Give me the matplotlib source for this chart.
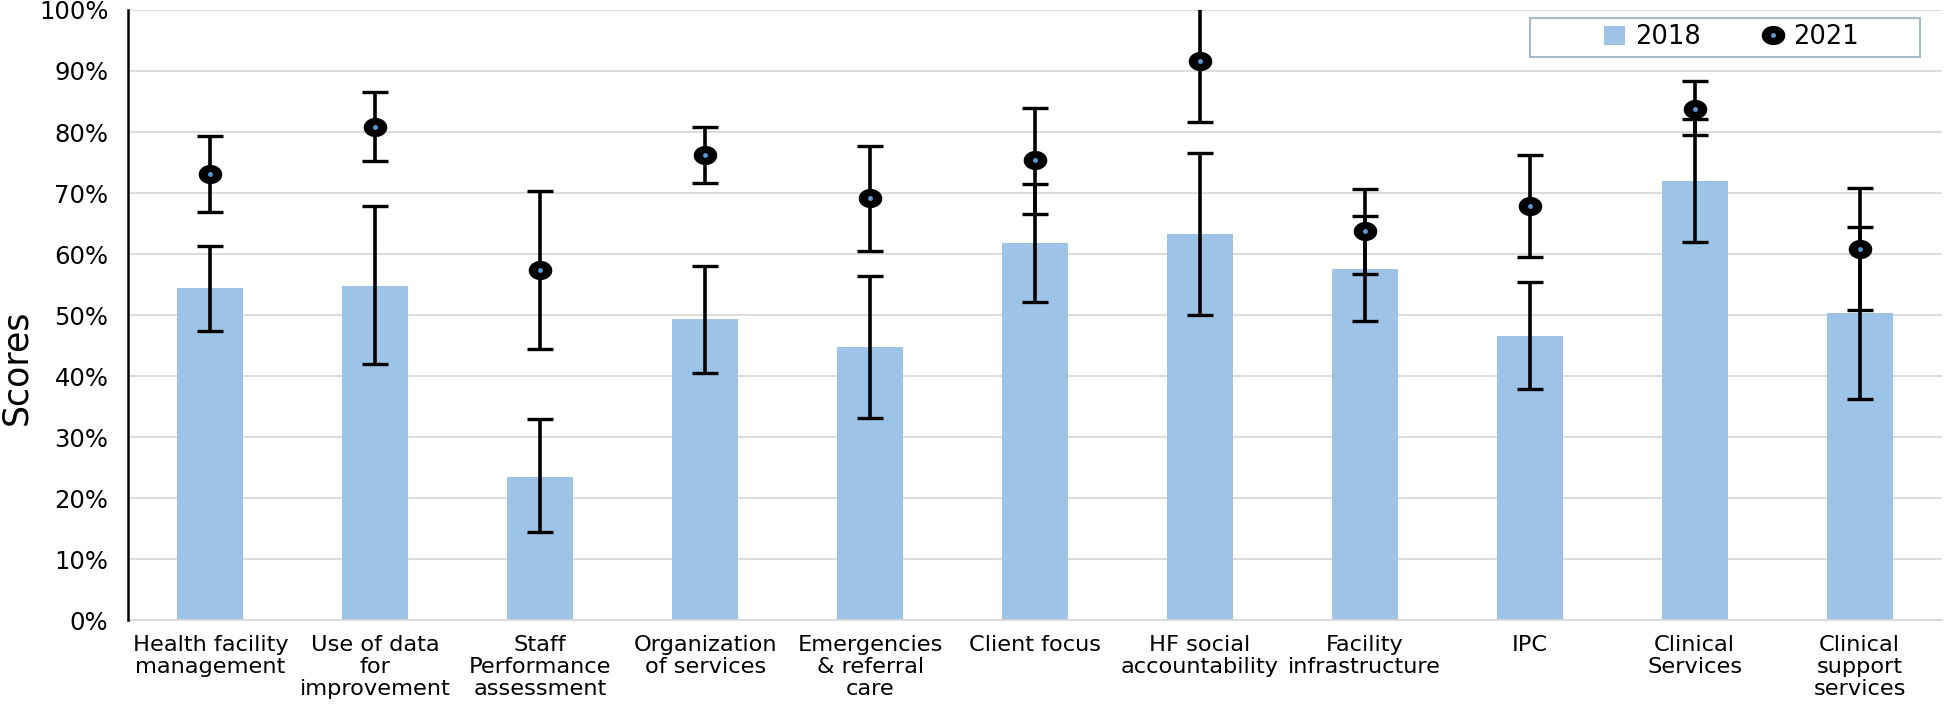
import numpy as np
import matplotlib
matplotlib.use('Agg')
import matplotlib.pyplot as plt
from matplotlib.lines import Line2D
from matplotlib.patches import Patch, Rectangle
from matplotlib.legend_handler import HandlerTuple

categories = ['Health facility\nmanagement', 'Use of data\nfor\nimprovement', 'Staff\nPerformance\nassessment',
              'Organization\nof services', 'Emergencies\n& referral\ncare', 'Client focus',
              'HF social\naccountability', 'Facility\ninfrastructure', 'IPC', 'Clinical\nServices',
              'Clinical\nsupport\nservices']

# 2018 scores (bars) and their error bar ends
score_2018 = [54.4, 54.8, 23.5, 49.3, 44.7, 61.8, 63.2, 57.6, 46.5, 71.9, 50.4]
low_2018 = [47.4, 41.9, 14.5, 40.5, 33.1, 52.2, 50.0, 49.0, 37.9, 61.9, 36.3]
high_2018 = [61.3, 67.9, 32.9, 58.1, 56.4, 71.4, 76.5, 66.3, 55.4, 82.1, 64.4]

# 2021 scores (points) and their error bar ends
score_2021 = [73.1, 80.9, 57.4, 76.2, 69.1, 75.4, 91.7, 63.8, 67.8, 83.8, 60.8]
low_2021 = [66.9, 75.3, 44.5, 71.6, 60.5, 66.6, 81.7, 56.7, 59.5, 79.5, 50.8]
high_2021 = [79.3, 86.6, 70.3, 80.8, 77.7, 83.9, 101.7, 70.7, 76.2, 88.3, 70.9]

BAR_COLOR = '#9DC3E6'
DOT_COLOR = '#5B9BD5'
GRID_COLOR = '#D9D9D9'

x = np.arange(len(categories))
s18 = np.array(score_2018)
s21 = np.array(score_2021)
err18 = [s18 - np.array(low_2018), np.array(high_2018) - s18]
err21 = [s21 - np.array(low_2021), np.array(high_2021) - s21]

fig = plt.figure(figsize=(19.44, 7.09), dpi=100)
ax = fig.add_axes([0.0658, 0.1255, 0.9332, 0.8604])

ax.bar(x, s18, width=0.40, color=BAR_COLOR, zorder=2)
ax.errorbar(x, s18, yerr=err18, fmt='none', ecolor='black', elinewidth=2.6,
            capsize=9.5, capthick=2.4, zorder=3)
ax.errorbar(x, s21, yerr=err21, fmt='none', ecolor='black', elinewidth=2.6,
            capsize=9.5, capthick=2.4, zorder=3)

# slightly wide ellipse marker like the original
t = np.linspace(0, 2 * np.pi, 60)
ell = np.column_stack([1.25 * np.cos(t), np.sin(t)])
ax.plot(x, s21, linestyle='none', marker=ell, markersize=16, color='black', zorder=4)
ax.plot(x, s21, linestyle='none', marker='o', markersize=3.5, color=DOT_COLOR,
        markeredgewidth=0, zorder=5)

ax.set_xlim(-0.5, len(categories) - 0.5)
ax.set_ylim(0, 100)
ax.set_yticks(np.arange(0, 101, 10))
ax.set_yticklabels([f'{v}%' for v in range(0, 101, 10)], fontsize=17.5, family='DejaVu Sans')
ax.set_xticks(x)
ax.set_xticklabels(categories, fontsize=16.2, linespacing=1.12)
ax.tick_params(axis='both', length=0)
ax.tick_params(axis='x', pad=11)
ax.tick_params(axis='y', pad=14)

ax.yaxis.grid(True, color=GRID_COLOR, linewidth=1.3, zorder=0)
ax.set_axisbelow(True)
for side in ['top', 'right']:
    ax.spines[side].set_visible(False)
ax.spines['left'].set_linewidth(1.8)
ax.spines['left'].set_color('black')
ax.spines['left'].set_zorder(6)
ax.spines['bottom'].set_color(GRID_COLOR)
ax.spines['bottom'].set_linewidth(1.3)

ax.set_ylabel('Scores', fontsize=25)
ax.yaxis.set_label_coords(-0.052, 0.415)

# legend box
ax.add_patch(Rectangle((0.773, 0.923), 0.215, 0.064, transform=ax.transAxes,
                       facecolor='white', edgecolor='#A9B8CA', linewidth=1.5, zorder=7))
h18 = Patch(facecolor=BAR_COLOR, edgecolor='none')
h21a = Line2D([], [], linestyle='none', marker=ell, markersize=16, color='black')
h21b = Line2D([], [], linestyle='none', marker='o', markersize=3.5, color=DOT_COLOR, markeredgewidth=0)
leg = ax.legend([h18, (h21a, h21b)], ['2018', '2021'], ncol=2, loc='center',
                bbox_to_anchor=(0.884, 0.955), frameon=False, fontsize=18.5,
                handlelength=0.8, handleheight=0.8, handletextpad=0.4, columnspacing=2.4,
                handler_map={tuple: HandlerTuple(ndivide=1)})
leg.set_zorder(8)

fig.savefig('out.png', dpi=100)
